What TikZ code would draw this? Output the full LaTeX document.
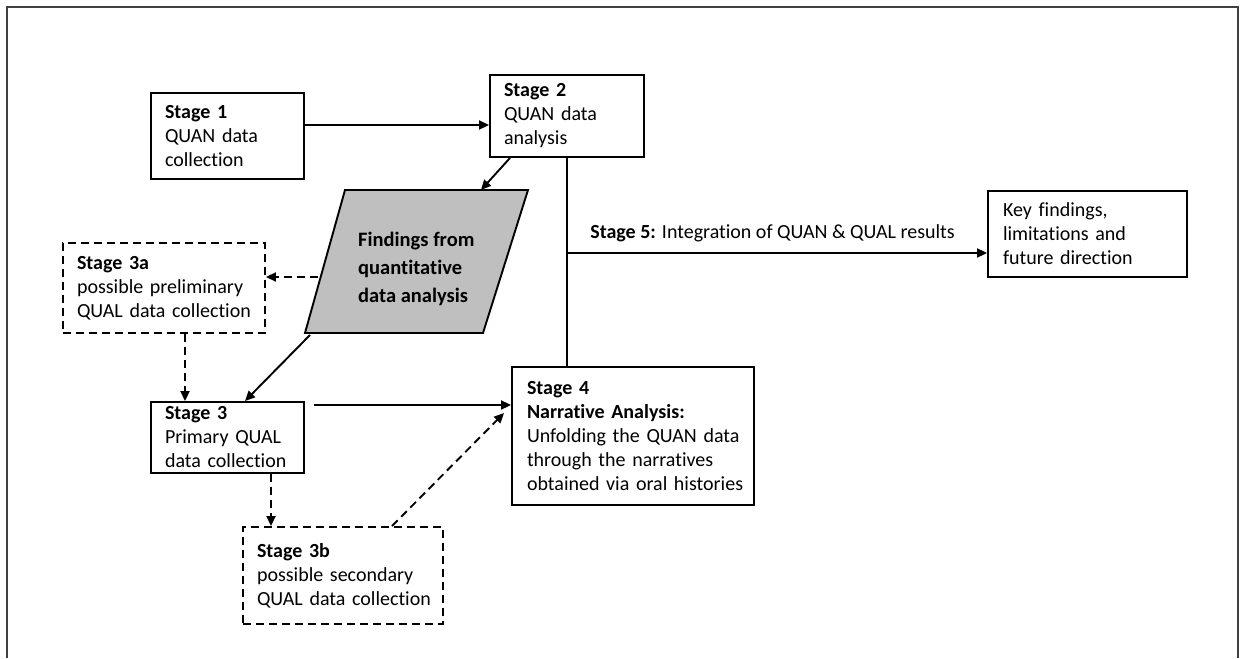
\documentclass[tikz,border=0pt]{standalone}
\usepackage{fontspec}
\setmainfont{Carlito}[Ligatures=NoCommon]
\usetikzlibrary{arrows.meta}
% keep each printed line on one line, even when slightly wider than the box
\newcommand\boxline[1]{\mbox{#1}}
\begin{document}
\begin{tikzpicture}[x=1pt,y=-1pt,
  txt/.style={font=\fontsize{20}{24}\selectfont},
  stagebox/.style={draw,line width=1.9pt,txt,align=left,inner xsep=14pt,inner ysep=0pt},
  dashbox/.style={stagebox,dash pattern=on 8pt off 5pt},
  arr/.style={line width=1.9pt,-{Triangle[length=10pt,width=9pt]}},
  darr/.style={arr,dash pattern=on 8pt off 5pt},
  conn/.style={line width=1.9pt}]
\useasboundingbox (0,0) rectangle (1246,658);
% outer frame
\draw[line width=1.4pt,black!75] (7,658) -- (7,7) -- (1238,7) -- (1238,658);

% stage boxes
\node[stagebox,minimum width=153pt,minimum height=86pt,text width=125pt] (s1) at (227.5,136)
  {\textbf{Stage 1}\\\boxline{QUAN data}\\collection};
\node[stagebox,minimum width=154pt,minimum height=82pt,text width=126pt] (s2) at (567,116)
  {\textbf{Stage 2}\\\boxline{QUAN data}\\analysis};
\node[dashbox,minimum width=202pt,minimum height=90pt,text width=174pt] (s3a) at (164,288)
  {\textbf{Stage 3a}\\\boxline{possible preliminary}\\\boxline{QUAL data collection}};
\node[stagebox,minimum width=153pt,minimum height=71pt,text width=125pt] (s3) at (227.5,437.5)
  {\textbf{Stage 3}\\\boxline{Primary QUAL}\\\boxline{data collection}};
\node[dashbox,minimum width=200pt,minimum height=97pt,text width=172pt] (s3b) at (343,575.5)
  {\textbf{Stage 3b}\\\boxline{possible secondary}\\\boxline{QUAL data collection}};
\node[stagebox,minimum width=242pt,minimum height=138pt,text width=212pt,inner xsep=15pt] (s4) at (633,436)
  {\textbf{Stage 4}\\\boxline{\textbf{Narrative Analysis:}}\\\boxline{Unfolding the QUAN data}\\\boxline{through the narratives}\\\boxline{obtained via oral histories}};
\node[stagebox,minimum width=199pt,minimum height=86pt,text width=169pt,inner xsep=15pt] (key) at (1087.5,234)
  {\boxline{Key findings,}\\\boxline{limitations and}\\\boxline{future direction}};

% findings parallelogram
\coordinate (ptl) at (345,190);
\coordinate (ptr) at (528,190);
\coordinate (pbr) at (483,333);
\coordinate (pbl) at (305,333);
\draw[line width=1.9pt,fill=black!25] (ptl) -- (ptr) -- (pbr) -- (pbl) -- cycle;
\node[anchor=west,inner sep=0pt,align=left,font=\fontsize{20.5}{28}\selectfont\bfseries] (find) at (358,269)
  {Findings from\\quantitative\\data analysis};
\coordinate (ptop) at (481,190);
\coordinate (pleft) at (318,277);
\coordinate (pbot) at (310,335);

% connectors
\draw[arr] ([yshift=11pt]s1.east) -- ([yshift=11pt]s1.east -| s2.west);
\draw[arr] ([xshift=-57pt]s2.south) -- (ptop);
\draw[conn] (s2.south) -- (s2.south |- s4.north);
\coordinate (j) at (567,253);
\draw[arr] (j) -- (j -| key.west);
\node[txt,inner sep=0pt] (lbl5) at (772.5,233) {\textbf{Stage 5:} Integration of QUAN \& QUAL results};
\draw[darr] (pleft) -- (pleft -| s3a.east);
\draw[darr] ([xshift=21pt]s3a.south) -- ([xshift=21pt]s3a.south |- s3.north);
\draw[arr] (pbot) -- ([xshift=17.5pt]s3.north);
\draw[arr] ([xshift=9pt,yshift=32.5pt]s3.east) -- ([yshift=32.5pt]s3.east -| s4.west);
\draw[darr] ([xshift=43.5pt]s3.south) -- ([xshift=43.5pt]s3.south |- s3b.north);
\draw[darr] ([xshift=49pt]s3b.north) -- ([xshift=-7pt,yshift=23pt]s4.west);
\end{tikzpicture}
\end{document}
